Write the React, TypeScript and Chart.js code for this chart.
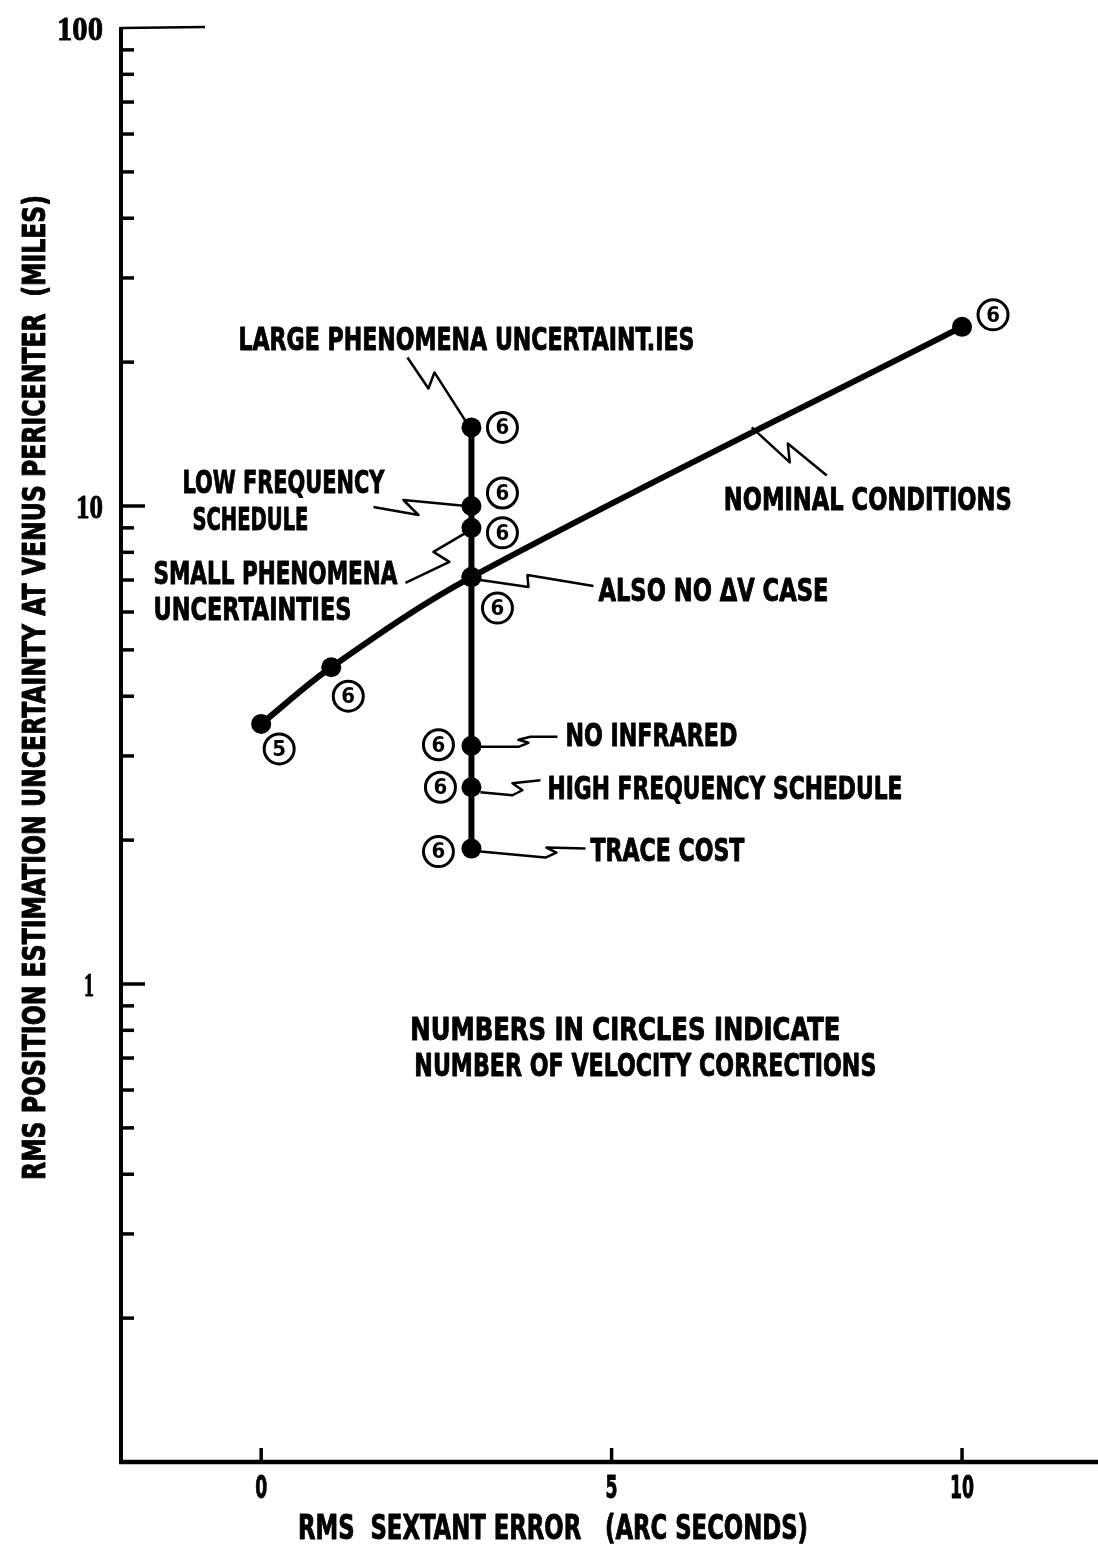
import React, { useEffect, useRef } from "react";
import { Chart, registerables } from "chart.js";

Chart.register(...registerables);

// ---------------- data ----------------
const nominalX = [0, 1, 3, 10];
const nominalY = [3.5, 4.6, 7.1, 23.7];
const nominalCorrections = ["5", "6", "6", "6"];

const casesX = [3, 3, 3, 3, 3, 3, 3];
const casesY = [14.6, 10, 9.0, 7.1, 3.15, 2.58, 1.92];
const casesCorrections = ["6", "6", "6", "6", "6", "6", "6"];

const xTickValues = [0, 5, 10];
const xTickLabels = ["0", "5", "10"];
const yMajorValues = [1, 10, 100];
const yMajorLabels = ["1", "10", "100"];
const yMinorValues = [
  0.2, 0.3, 0.4, 0.5, 0.6, 0.7, 0.8, 0.9,
  2, 3, 4, 5, 6, 7, 8, 9,
  20, 30, 40, 50, 60, 70, 80, 90,
];

const xTitle = "RMS  SEXTANT ERROR   (ARC SECONDS)";
const yTitle = "RMS POSITION ESTIMATION UNCERTAINTY AT VENUS PERICENTER  (MILES)";
const noteLines = ["NUMBERS IN CIRCLES INDICATE", "NUMBER OF VELOCITY CORRECTIONS"];

// ---------------- layout of annotations (pixel offsets from anchor) ----------------
const SANS = '"Liberation Sans Narrow", "DejaVu Sans Condensed", "Arial Narrow", "Liberation Sans", sans-serif';
const SERIF = '"Liberation Serif", "DejaVu Serif", serif';

type Ann = {
  anchor: [number, number];
  lines: { t: string; dx: number; dy: number; w: number }[];
  leader: [number, number][];
};

const annotations: Ann[] = [
  {
    anchor: [3, 14.6],
    lines: [{ t: "LARGE PHENOMENA UNCERTAINT.IES", dx: -233, dy: -100, w: 456 }],
    leader: [[-64, -70], [-43, -39], [-37, -55], [-5, -5]],
  },
  {
    anchor: [3, 10],
    lines: [
      { t: "LOW FREQUENCY", dx: -289, dy: -36, w: 202 },
      { t: "SCHEDULE", dx: -279, dy: 1, w: 116 },
    ],
    leader: [[-98, 1], [-53, 9], [-68, -6], [-5, 0]],
  },
  {
    anchor: [3, 9.0],
    lines: [
      { t: "SMALL PHENOMENA", dx: -318, dy: 33, w: 244 },
      { t: "UNCERTAINTIES", dx: -318, dy: 69, w: 198 },
    ],
    leader: [[-66, 55], [-22, 34], [-38, 24], [-4, 4]],
  },
  {
    anchor: [3, 7.1],
    lines: [{ t: "ALSO NO \u0394V CASE", dx: 127, dy: 1, w: 230 }],
    leader: [[9, 3], [57, 10], [56, -2], [122, 9]],
  },
  {
    anchor: [3, 3.15],
    lines: [{ t: "NO INFRARED", dx: 94, dy: -23, w: 172 }],
    leader: [[9, 1], [47, 1], [57, -3], [47, -6], [59, -9], [86, -9]],
  },
  {
    anchor: [3, 2.58],
    lines: [{ t: "HIGH FREQUENCY SCHEDULE", dx: 76, dy: -11, w: 355 }],
    leader: [[9, 5], [41, 8], [51, 3], [41, -4], [69, -7]],
  },
  {
    anchor: [3, 1.92],
    lines: [{ t: "TRACE COST", dx: 119, dy: -11, w: 154 }],
    leader: [[9, 3], [74, 9], [85, 4], [75, -1], [114, 0]],
  },
  {
    anchor: [7, 14.6],
    lines: [{ t: "NOMINAL CONDITIONS", dx: -28, dy: 60, w: 288 }],
    leader: [[0, 0], [38, 35], [36, 16], [75, 48]],
  },
  {
    anchor: [2, 1],
    lines: [
      { t: noteLines[0], dx: 9, dy: 33, w: 430 },
      { t: noteLines[1], dx: 13, dy: 69, w: 462 },
    ],
    leader: [],
  },
];

const nominalCircleOffsets: [number, number][] = [[18, 25], [17, 29], [30, 0], [31, -12]];
const casesCircleOffsets: [number, number][] = [
  [31, 0], [31, -13], [31, 5], [26, 31], [-33, -1], [-31, 0], [-33, 3],
];

const CAP = 23;

function fitText(
  ctx: CanvasRenderingContext2D,
  text: string,
  left: number,
  top: number,
  width: number,
  cap: number,
  family: string = SANS
) {
  const size = cap / 0.72;
  ctx.font = `bold ${size}px ${family}`;
  const m = ctx.measureText(text).width || 1;
  ctx.save();
  ctx.translate(left, top + cap);
  ctx.scale(width / m, 1);
  ctx.textAlign = "left";
  ctx.textBaseline = "alphabetic";
  ctx.fillStyle = "#000";
  ctx.strokeStyle = "#000";
  ctx.lineWidth = 0.9;
  ctx.lineJoin = "round";
  ctx.fillText(text, 0, 0);
  ctx.strokeText(text, 0, 0);
  ctx.restore();
}

const decorPlugin = {
  id: "decor",
  beforeDraw(chart: any) {
    const ctx = chart.ctx;
    ctx.save();
    ctx.fillStyle = "#fff";
    ctx.fillRect(0, 0, chart.width, chart.height);
    ctx.restore();
  },
  afterDraw(chart: any) {
    const ctx: CanvasRenderingContext2D = chart.ctx;
    const xs = chart.scales.x;
    const ys = chart.scales.y;
    const area = chart.chartArea;
    const px = (v: number) => xs.getPixelForValue(v);
    const py = (v: number) => ys.getPixelForValue(v);

    ctx.save();
    ctx.strokeStyle = "#000";
    ctx.fillStyle = "#000";
    ctx.lineCap = "butt";

    // axes
    ctx.lineWidth = 4;
    ctx.beginPath();
    ctx.moveTo(area.left, area.top - 1);
    ctx.lineTo(area.left, area.bottom + 2);
    ctx.stroke();
    ctx.lineWidth = 4.5;
    ctx.beginPath();
    ctx.moveTo(area.left - 2, area.bottom);
    ctx.lineTo(area.right, area.bottom);
    ctx.stroke();
    // top stub
    ctx.lineWidth = 2.5;
    ctx.beginPath();
    ctx.moveTo(area.left, area.top);
    ctx.lineTo(area.left + 84, area.top - 1);
    ctx.stroke();

    // y ticks (inward)
    ctx.lineWidth = 3.5;
    yMinorValues.forEach((v) => {
      const y = py(v);
      ctx.beginPath();
      ctx.moveTo(area.left, y);
      ctx.lineTo(area.left + 13, y);
      ctx.stroke();
    });
    yMajorValues.forEach((v) => {
      if (v >= 100) return;
      const y = py(v);
      ctx.beginPath();
      ctx.moveTo(area.left, y);
      ctx.lineTo(area.left + 24, y);
      ctx.stroke();
    });
    // x ticks (inward)
    xTickValues.forEach((v) => {
      const x = px(v);
      ctx.beginPath();
      ctx.moveTo(x, area.bottom);
      ctx.lineTo(x, area.bottom - 14);
      ctx.stroke();
    });

    // y tick labels
    const yLabW: Record<string, number> = { "1": 10, "10": 27, "100": 46 };
    yMajorValues.forEach((v, i) => {
      const lab = yMajorLabels[i];
      const w = yLabW[lab];
      const right = lab === "1" ? 94 : 103;
      fitText(ctx, lab, right - w, py(v) - 12, w, 24, SERIF);
    });
    // x tick labels
    xTickValues.forEach((v, i) => {
      const lab = xTickLabels[i];
      const w = lab.length * 12;
      fitText(ctx, lab, px(v) - w / 2, area.bottom + 13, w, 23);
    });

    // axis titles
    fitText(ctx, xTitle, 298, area.bottom + 53, 510, 24);
    ctx.save();
    ctx.translate(45, 1180);
    ctx.rotate(-Math.PI / 2);
    fitText(ctx, yTitle, 0, -23, 985, 23);
    ctx.restore();

    // annotations
    annotations.forEach((a) => {
      const ax = px(a.anchor[0]);
      const ay = py(a.anchor[1]);
      if (a.leader.length) {
        ctx.lineWidth = 2.5;
        ctx.lineJoin = "round";
        ctx.beginPath();
        a.leader.forEach(([dx, dy], k) => {
          if (k === 0) ctx.moveTo(ax + dx, ay + dy);
          else ctx.lineTo(ax + dx, ay + dy);
        });
        ctx.stroke();
      }
      a.lines.forEach((l) => fitText(ctx, l.t, ax + l.dx, ay + l.dy, l.w, CAP));
    });

    // circled numbers
    const drawCircle = (cx: number, cy: number, t: string) => {
      ctx.lineWidth = 3;
      ctx.beginPath();
      ctx.arc(cx, cy, 15, 0, Math.PI * 2);
      ctx.stroke();
      ctx.font = `bold 22px ${SANS}`;
      ctx.textAlign = "center";
      ctx.textBaseline = "middle";
      ctx.fillText(t, cx, cy + 1);
    };
    nominalX.forEach((x, i) => {
      if (i === 2) return; // shared point, labelled with the vertical series
      const [dx, dy] = nominalCircleOffsets[i];
      drawCircle(px(x) + dx, py(nominalY[i]) + dy, nominalCorrections[i]);
    });
    casesX.forEach((x, i) => {
      const [dx, dy] = casesCircleOffsets[i];
      drawCircle(px(x) + dx, py(casesY[i]) + dy, casesCorrections[i]);
    });

    ctx.restore();
  },
};

export default function App() {
  const ref = useRef<HTMLCanvasElement>(null);
  useEffect(() => {
    const canvas = ref.current!;
    const chart = new Chart(canvas, {
      type: "scatter",
      data: {
        datasets: [
          {
            label: "Nominal conditions",
            data: nominalX.map((x, i) => ({ x, y: nominalY[i] })),
            showLine: true,
            borderColor: "#000",
            backgroundColor: "#000",
            borderWidth: 6,
            tension: 0.35,
            pointRadius: 10,
            pointBorderWidth: 0,
          },
          {
            label: "Cases",
            data: casesX.map((x, i) => ({ x, y: casesY[i] })),
            showLine: true,
            borderColor: "#000",
            backgroundColor: "#000",
            borderWidth: 6,
            tension: 0,
            pointRadius: 10,
            pointBorderWidth: 0,
          },
        ],
      },
      options: {
        responsive: false,
        devicePixelRatio: 1,
        animation: false,
        layout: { autoPadding: false, padding: { left: 121, right: 0, top: 28, bottom: 95 } },
        plugins: { legend: { display: false }, tooltip: { enabled: false } },
        scales: {
          x: { type: "linear", min: -2, max: 11.94, display: false },
          y: { type: "logarithmic", min: 0.1, max: 100, display: false },
        },
      },
      plugins: [decorPlugin],
    });
    return () => chart.destroy();
  }, []);
  return (
    <div style={{ position: "absolute", left: 0, top: 0, width: 1098, height: 1557, background: "#fff" }}>
      <canvas ref={ref} width={1098} height={1557} style={{ display: "block" }} />
    </div>
  );
}
